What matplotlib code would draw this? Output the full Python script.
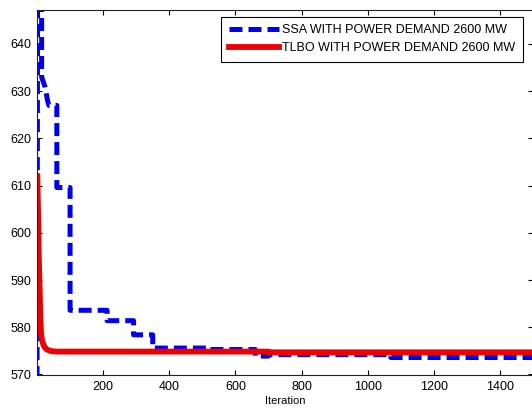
import matplotlib
matplotlib.use("Agg")
import matplotlib.pyplot as plt

plt.rcParams['font.family'] = ['Liberation Sans', 'DejaVu Sans']

# SSA convergence (stepwise best cost per iteration)
ssa_iter = [0, 2, 14, 14, 24, 32, 36, 60, 60, 100, 100, 212, 212, 292, 292,
            350, 350, 520, 520, 660, 660, 700, 700, 1070, 1070, 1500]
ssa_cost = [565, 665, 665, 633, 631, 628, 627, 627, 609.6, 609.6, 583.6, 583.6,
            581.4, 581.4, 578.4, 578.4, 575.6, 575.6, 575.3, 575.3, 573.9, 573.9,
            574.2, 574.2, 573.6, 573.6]

# TLBO convergence
tlbo_iter = [1, 3, 5, 8, 10, 12, 15, 20, 25, 30, 40, 50, 60, 700, 700, 1500]
tlbo_cost = [612, 605, 596, 588, 582, 579, 577.3, 576.2, 575.6, 575.3, 575.0,
             574.9, 574.85, 574.85, 574.7, 574.7]

x_ticks = [200, 400, 600, 800, 1000, 1200, 1400]
y_ticks = [570, 580, 590, 600, 610, 620, 630, 640]

fig = plt.figure(figsize=(5.32, 4.12), dpi=100)
ax = fig.add_axes([37 / 532, (412 - 374.5) / 412, (533 - 37) / 532, (374.5 - 10) / 412])

ax.plot(ssa_iter, ssa_cost, color='#0000ee', lw=3.6, linestyle=(0, (2.6, 1.2)),
        label='SSA WITH POWER DEMAND 2600 MW')
ax.plot(tlbo_iter, tlbo_cost, color='#ee0000', lw=4.2,
        label='TLBO WITH POWER DEMAND 2600 MW')

ax.set_xlim(0, 1500)
ax.set_ylim(570, 647.2)
ax.set_xticks(x_ticks)
ax.set_yticks(y_ticks)
ax.tick_params(direction='in', length=3.6, width=0.8, top=True, right=True,
               labelsize=9, colors='black')
ax.tick_params(axis='x', pad=5)
ax.tick_params(axis='y', pad=4)
for s in ax.spines.values():
    s.set_color('#222222')
    s.set_linewidth(0.8)
ax.set_xlabel('Iteration', fontsize=8, labelpad=2)

leg = ax.legend(loc='upper right', bbox_to_anchor=(0.979, 0.981), fontsize=9,
                handlelength=4.0, handletextpad=0.25, labelspacing=0.45,
                borderpad=0.6, borderaxespad=0.0, fancybox=False, framealpha=1)
leg.get_frame().set_edgecolor('black')
leg.get_frame().set_linewidth(0.8)

fig.savefig('out.png', dpi=100)
